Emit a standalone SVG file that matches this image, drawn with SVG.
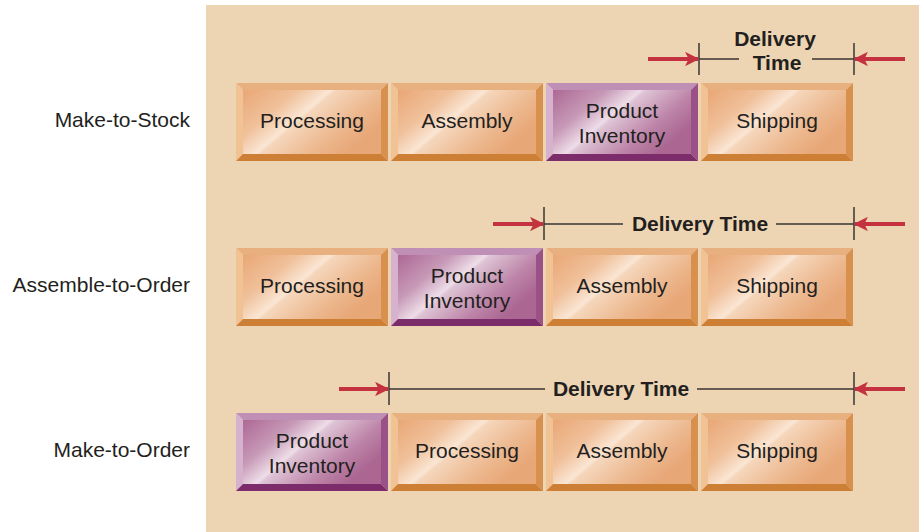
<svg xmlns="http://www.w3.org/2000/svg" xmlns:xlink="http://www.w3.org/1999/xlink" width="919" height="532" viewBox="0 0 919 532">
<defs>
<style>
text{font-family:"Liberation Sans",Arial,sans-serif;fill:#231f20;}
.lbl{font-size:21px;text-anchor:end;}
.bx{font-size:21px;text-anchor:middle;}
.dt{font-size:21px;font-weight:bold;text-anchor:middle;}
.ln{stroke:#3a3330;stroke-width:1.5;fill:none;}
.ar{stroke:#c4323f;stroke-width:4;fill:none;}
</style>
<linearGradient id="gO" x1="0" y1="0" x2="1" y2="0.55">
<stop offset="0" stop-color="#e9a776"/>
<stop offset="0.3" stop-color="#f0c09a"/>
<stop offset="0.49" stop-color="#fae6d4"/>
<stop offset="0.52" stop-color="#f5d6bb"/>
<stop offset="0.8" stop-color="#ecb78d"/>
<stop offset="1" stop-color="#e8a777"/>
</linearGradient>
<linearGradient id="gP" x1="0" y1="0" x2="1" y2="0.55">
<stop offset="0" stop-color="#ad6894"/>
<stop offset="0.3" stop-color="#c799b7"/>
<stop offset="0.49" stop-color="#eedde8"/>
<stop offset="0.52" stop-color="#dec4d5"/>
<stop offset="0.8" stop-color="#bd84a8"/>
<stop offset="1" stop-color="#ab6792"/>
</linearGradient>
<marker id="ah" viewBox="0 0 10 10" refX="9" refY="5" markerWidth="3.6" markerHeight="3.6" orient="auto" markerUnits="strokeWidth">
<path d="M0,0 L10,5 L0,10 L2.5,5 Z" fill="#c4323f"/>
</marker>
<g id="obox">
<rect x="7" y="7" width="138" height="64" fill="url(#gO)"/>
<polygon points="0,0 152,0 145,7 7,7" fill="#e9b07f"/>
<polygon points="0,0 7,7 7,71 0,78" fill="#f0c294"/>
<polygon points="152,0 152,78 145,71 145,7" fill="#d8904f"/>
<polygon points="0,78 7,71 145,71 152,78" fill="#cd7f36"/>
</g>
<g id="pbox">
<rect x="7" y="7" width="138" height="64" fill="url(#gP)"/>
<polygon points="0,0 152,0 145,7 7,7" fill="#c08fb6"/>
<polygon points="0,0 7,7 7,71 0,78" fill="#d7b2cf"/>
<polygon points="152,0 152,78 145,71 145,7" fill="#9a5188"/>
<polygon points="0,78 7,71 145,71 152,78" fill="#7d2c6b"/>
</g>
</defs>
<rect width="919" height="532" fill="#ffffff"/>
<rect x="206" y="5" width="713" height="527" fill="#edd5b3"/>

<g id="row-labels">
<text class="lbl" x="190" y="127">Make-to-Stock</text>
<text class="lbl" x="190" y="292">Assemble-to-Order</text>
<text class="lbl" x="190" y="457">Make-to-Order</text>
</g>

<g id="mts-processing"><use xlink:href="#obox" x="236" y="83"/><text class="bx" x="312" y="128">Processing</text></g>
<g id="mts-assembly"><use xlink:href="#obox" x="391" y="83"/><text class="bx" x="467" y="128">Assembly</text></g>
<g id="mts-inventory"><use xlink:href="#pbox" x="546" y="83"/><text class="bx" x="622" y="118">Product</text><text class="bx" x="622" y="143">Inventory</text></g>
<g id="mts-shipping"><use xlink:href="#obox" x="701" y="83"/><text class="bx" x="777" y="128">Shipping</text></g>

<g id="ato-processing"><use xlink:href="#obox" x="236" y="248"/><text class="bx" x="312" y="293">Processing</text></g>
<g id="ato-inventory"><use xlink:href="#pbox" x="391" y="248"/><text class="bx" x="467" y="283">Product</text><text class="bx" x="467" y="308">Inventory</text></g>
<g id="ato-assembly"><use xlink:href="#obox" x="546" y="248"/><text class="bx" x="622" y="293">Assembly</text></g>
<g id="ato-shipping"><use xlink:href="#obox" x="701" y="248"/><text class="bx" x="777" y="293">Shipping</text></g>

<g id="mto-inventory"><use xlink:href="#pbox" x="236" y="413"/><text class="bx" x="312" y="448">Product</text><text class="bx" x="312" y="473">Inventory</text></g>
<g id="mto-processing"><use xlink:href="#obox" x="391" y="413"/><text class="bx" x="467" y="458">Processing</text></g>
<g id="mto-assembly"><use xlink:href="#obox" x="546" y="413"/><text class="bx" x="622" y="458">Assembly</text></g>
<g id="mto-shipping"><use xlink:href="#obox" x="701" y="413"/><text class="bx" x="777" y="458">Shipping</text></g>

<g id="connectors">
<line class="ln" x1="699" y1="43" x2="699" y2="75"/>
<line class="ln" x1="854" y1="43" x2="854" y2="75"/>
<line class="ln" x1="699" y1="59" x2="739" y2="59"/>
<line class="ln" x1="812" y1="59" x2="854" y2="59"/>
<line class="ar" x1="648" y1="59" x2="698" y2="59" marker-end="url(#ah)"/>
<line class="ar" x1="905" y1="59" x2="855" y2="59" marker-end="url(#ah)"/>
<line class="ln" x1="544" y1="207" x2="544" y2="240"/>
<line class="ln" x1="854" y1="207" x2="854" y2="240"/>
<line class="ln" x1="544" y1="224" x2="623" y2="224"/>
<line class="ln" x1="776" y1="224" x2="854" y2="224"/>
<line class="ar" x1="493" y1="224" x2="543" y2="224" marker-end="url(#ah)"/>
<line class="ar" x1="905" y1="224" x2="855" y2="224" marker-end="url(#ah)"/>
<line class="ln" x1="389" y1="372" x2="389" y2="405"/>
<line class="ln" x1="854" y1="372" x2="854" y2="405"/>
<line class="ln" x1="389" y1="389" x2="545" y2="389"/>
<line class="ln" x1="697" y1="389" x2="854" y2="389"/>
<line class="ar" x1="339" y1="389" x2="388" y2="389" marker-end="url(#ah)"/>
<line class="ar" x1="905" y1="389" x2="855" y2="389" marker-end="url(#ah)"/>
</g>

<g id="delivery-labels">
<text class="dt" x="775" y="46">Delivery</text>
<text class="dt" x="777" y="70">Time</text>
<text class="dt" x="700" y="231">Delivery Time</text>
<text class="dt" x="621" y="396">Delivery Time</text>
</g>
</svg>
